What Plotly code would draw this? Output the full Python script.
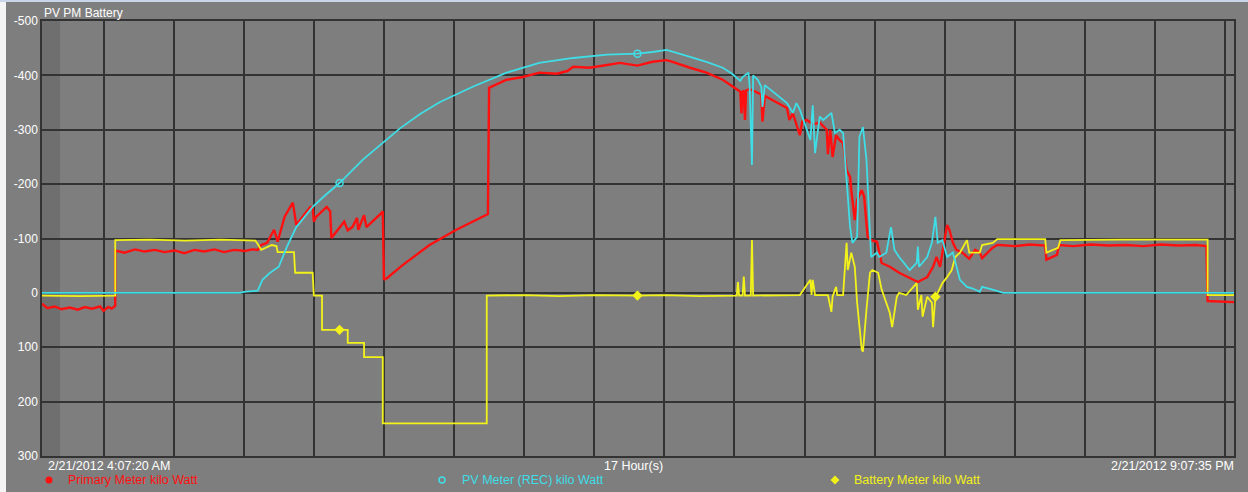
import plotly.graph_objects as go

DAY = "2012-02-21 "
START = "04:07:20"
END = "21:07:35"

# ---------------- data (time of day, kW; negative = generation, plotted upward) -------------
primary_time = [
    "04:07:20", "04:12", "04:18", "04:24", "04:31", "04:38", "04:44", "04:50", "04:57", "05:00", "05:04", "05:07", "05:10",
    "05:10", "05:18", "05:27", "05:35", "05:44", "05:52", "06:01", "06:09", "06:18", "06:26", "06:35", "06:43", "06:52", "07:01", "07:07", "07:12",
    "07:15", "07:20", "07:24", "07:26", "07:29", "07:35", "07:42", "07:45", "07:57", "07:59",
    "08:00", "08:02", "08:11", "08:14", "08:15", "08:22", "08:26", "08:29", "08:33", "08:37", "08:38", "08:43", "08:45", "08:58", "08:59",
    "09:00", "09:03", "09:16", "09:39", "10:02", "10:28", "10:29",
    "10:30", "10:45", "10:59", "11:13", "11:28", "11:37", "11:42", "11:56", "12:11", "12:22", "12:37", "12:50",
    "13:02", "13:07", "13:22", "13:36", "13:50", "13:58", "14:05", "14:06", "14:07", "14:08", "14:09", "14:10",
    "14:13", "14:23", "14:24", "14:26", "14:45", "14:47", "14:50", "14:56", "14:58",
    "15:02", "15:07", "15:13", "15:19", "15:20", "15:22", "15:24", "15:27", "15:30", "15:33", "15:36", "15:39",
    "15:40", "15:43", "15:45", "15:49", "15:51", "15:54", "15:57",
    "16:02", "16:06", "16:13", "16:21", "16:30", "16:37", "16:45", "16:50", "16:53", "16:56",
    "17:02", "17:04", "17:07", "17:10", "17:15", "17:21", "17:26", "17:30", "17:32", "17:41", "17:45", "17:47",
    "18:00", "18:13", "18:26", "18:27", "18:36", "18:38", "18:50", "19:05", "19:20", "19:35", "19:50",
    "20:05", "20:20", "20:35", "20:44", "20:45", "21:07:35",
]
primary_kw = [
    20, 28, 25, 30, 27, 31, 26, 29, 25, 33, 26, 29, 24,
    -78, -74, -80, -76, -79, -75, -78, -73, -79, -76, -80, -75, -79, -77, -80, -79,
    -88, -92, -107, -116, -94, -140, -166, -125, -158, -158,
    -131, -140, -158, -150, -101, -120, -131, -115, -121, -138, -116, -143, -121, -147, -150,
    -24, -28, -51, -88, -116, -143, -145,
    -377, -392, -397, -405, -403, -408, -416, -414, -419, -423, -418, -425,
    -428, -425, -414, -405, -392, -380, -370, -330, -370, -372, -318, -372,
    -375, -365, -315, -362, -340, -318, -330, -290, -315,
    -318, -310, -313, -300, -255, -300, -250, -290, -281, -276, -226, -213,
    -189, -134, -171, -189, -177, -103, -97,
    -94, -55, -48, -37, -28, -20, -29, -48, -66, -48,
    -125, -116, -92, -79, -74, -63, -79, -74, -64, -83, -88, -88,
    -86, -89, -87, -61, -70, -88, -86, -89, -87, -88, -86,
    -89, -87, -88, -86, 15, 17,
]

pv_time = [
    "04:07:20", "06:57", "07:00", "07:06", "07:08", "07:12", "07:16", "07:22", "07:30", "07:37", "07:45", "07:59",
    "08:10", "08:22", "08:42", "08:57", "09:14", "09:31", "09:48", "10:16", "10:45", "11:13", "11:42", "12:11",
    "12:37", "12:50", "13:02", "13:22", "13:36", "13:50", "13:58", "14:05", "14:07", "14:12", "14:13", "14:15",
    "14:16", "14:20", "14:23", "14:24", "14:26", "14:45", "14:47", "14:50", "14:53", "14:56", "15:05", "15:07",
    "15:09", "15:13", "15:16", "15:23", "15:26", "15:30", "15:33", "15:36", "15:39", "15:41", "15:45", "15:47",
    "15:50", "15:53", "15:56", "15:57", "16:02", "16:04", "16:10", "16:14", "16:17", "16:21", "16:30", "16:36",
    "16:37", "16:38", "16:45", "16:49", "16:52", "16:54", "16:58", "17:02", "17:07", "17:10", "17:13", "17:19",
    "17:24", "17:30", "17:32", "17:41", "17:50", "21:07:35",
]
pv_kw = [
    0, 0, -2, -3, -2, -4, -24, -36, -48, -85, -121, -158,
    -180, -202, -245, -272, -303, -329, -351, -379, -405, -423, -432, -438,
    -440, -443, -447, -434, -425, -414, -403, -390, -397, -405, -380, -235,
    -400, -392, -379, -342, -382, -349, -342, -331, -349, -337, -281, -345,
    -257, -324, -318, -331, -294, -300, -294, -213, -121, -92, -103, -287,
    -305, -245, -103, -66, -74, -66, -74, -121, -79, -66, -42, -55,
    -85, -48, -66, -92, -140, -92, -97, -66, -74, -48, -24, -11,
    -8, -2, -11, -6, 0, 0,
]

battery_time = [
    "04:07:20", "04:40", "05:10", "05:10", "05:40", "06:10", "06:40", "07:10", "07:12", "07:15", "07:24", "07:28",
    "07:29", "07:43", "07:44", "07:59", "08:00", "08:07", "08:07", "08:29", "08:29", "08:43", "08:43", "08:59",
    "08:59", "10:28", "10:28", "11:00", "11:30", "12:00", "12:37", "13:00", "13:30", "14:02", "14:03", "14:04",
    "14:07", "14:08", "14:09", "14:14", "14:15", "14:16", "14:56", "15:05", "15:06", "15:07", "15:09", "15:20",
    "15:23", "15:24", "15:27", "15:28", "15:33", "15:36", "15:37", "15:40", "15:43", "15:45", "15:49", "15:50",
    "15:53", "15:56", "15:58", "16:03", "16:06", "16:08", "16:13", "16:15", "16:19", "16:21", "16:27", "16:36",
    "16:37", "16:40", "16:41", "16:45", "16:49", "16:50", "16:52", "16:54", "16:58", "17:02", "17:06", "17:09",
    "17:13", "17:19", "17:21", "17:30", "17:32", "17:41", "17:45", "18:26", "18:27", "18:37", "18:39", "19:30",
    "20:45", "20:45", "21:07:35",
]
battery_kw = [
    5, 6, 5, -97, -98, -96, -98, -96, -90, -79, -88, -86,
    -75, -75, -37, -37, 5, 5, 68, 68, 92, 92, 118, 118,
    240, 240, 5, 4, 6, 4, 5, 4, 6, 5, -20, 5,
    5, -30, 5, 5, -97, 5, 4, -24, 4, -24, 4, 4,
    35, 7, -11, 4, 4, -92, -42, -74, -48, 18, 105, 108,
    31, -37, -42, -37, -6, 7, 37, 63, 7, 0, 4, -18,
    31, 4, 44, 7, 18, 63, 7, 0, -18, -29, -42, -66,
    -74, -97, -74, -74, -88, -92, -99, -99, -74, -83, -97, -98,
    -98, 4, 4,
]

pv_marker_time = ["08:22", "12:37"]
pv_marker_kw = [-202, -440]
battery_marker_time = ["08:22", "12:37", "16:52"]
battery_marker_kw = [68, 5, 7]

y_ticks = [-500, -400, -300, -200, -100, 0, 100, 200, 300]
y_ticktext = ["-500", "-400", "-300", "-200", "-100", "0", "100", "200", "300"]

chart_title = "PV PM Battery"
start_label = "2/21/2012 4:07:20 AM"
span_label = "17 Hour(s)"
end_label = "2/21/2012 9:07:35 PM"
series_names = ["Primary Meter kilo Watt", "PV Meter (REC) kilo Watt", "Battery Meter kilo Watt"]

assert len(primary_time) == len(primary_kw)
assert len(pv_time) == len(pv_kw)
assert len(battery_time) == len(battery_kw)

# ---------------- styling ----------------
RED = "#ff1010"
CYAN = "#3fdde6"
YELLOW = "#f2f21a"
BG = "#7e7e7e"
GRID = "#333333"
FONT = "Liberation Sans, Arial, sans-serif"
TXT = 12.5


def ts(times):
    return [DAY + t for t in times]


fig = go.Figure()
fig.add_trace(go.Scatter(x=ts(primary_time), y=primary_kw, mode="lines",
                         line=dict(color=RED, width=2.4), name=series_names[0]))
fig.add_trace(go.Scatter(x=ts(battery_time), y=battery_kw, mode="lines",
                         line=dict(color=YELLOW, width=1.8), name=series_names[2]))
fig.add_trace(go.Scatter(x=ts(pv_time), y=pv_kw, mode="lines",
                         line=dict(color=CYAN, width=1.8), name=series_names[1]))
fig.add_trace(go.Scatter(x=ts(pv_marker_time), y=pv_marker_kw, mode="markers",
                         marker=dict(symbol="circle-open", size=7, color=CYAN, line=dict(width=1.5, color=CYAN))))
fig.add_trace(go.Scatter(x=ts(battery_marker_time), y=battery_marker_kw, mode="markers",
                         marker=dict(symbol="diamond", size=8, color=YELLOW)))

fig.update_layout(
    width=1248, height=492,
    margin=dict(l=42, r=14, t=21, b=36),
    paper_bgcolor=BG, plot_bgcolor=BG,
    showlegend=False,
    font=dict(family=FONT, size=TXT, color="white"),
)
fig.update_xaxes(
    type="date", range=[DAY + START, DAY + END],
    tick0=DAY + "05:00:00", dtick=3600000,
    showticklabels=False, ticks="",
    showgrid=True, gridcolor=GRID, gridwidth=1.5,
    showline=True, linecolor=GRID, linewidth=1.5, mirror=True, zeroline=False,
)
fig.update_yaxes(
    range=[300, -500], tickvals=y_ticks, ticktext=y_ticktext,
    ticks="", tickfont=dict(family=FONT, size=12, color="white"),
    showgrid=True, gridcolor=GRID, gridwidth=1.5,
    showline=True, linecolor=GRID, linewidth=1.5, mirror=True, zeroline=False,
)

W, H = 1192.0, 435.0  # plot area in px
shapes = [
    # darker strip at the left edge of the plot area
    dict(type="rect", xref="x", yref="paper", x0=DAY + START, x1=DAY + "04:22:40", y0=0, y1=1,
         fillcolor="#6f6f6f", line=dict(width=0), layer="below"),
    # white left margin strip and light-blue top rule of the window
    dict(type="rect", xref="paper", yref="paper", x0=-42 / W, x1=-36 / W, y0=-36 / H, y1=21 / H + 1,
         fillcolor="#f4f4f4", line=dict(width=0)),
    dict(type="rect", xref="paper", yref="paper", x0=-42 / W, x1=1 + 14 / W, y0=1 + 19 / H, y1=1 + 21 / H,
         fillcolor="#c9d6ea", line=dict(width=0)),
    # legend symbols
    dict(type="circle", xref="paper", yref="paper", xsizemode="pixel", ysizemode="pixel",
         xanchor=7 / W, yanchor=-24 / H, x0=-3.5, x1=3.5, y0=-3.5, y1=3.5,
         fillcolor=RED, line=dict(width=0)),
    dict(type="circle", xref="paper", yref="paper", xsizemode="pixel", ysizemode="pixel",
         xanchor=400 / W, yanchor=-24 / H, x0=-3, x1=3, y0=-3, y1=3,
         fillcolor="rgba(0,0,0,0)", line=dict(width=1.5, color=CYAN)),
    dict(type="path", xref="paper", yref="paper", xsizemode="pixel", ysizemode="pixel",
         xanchor=793 / W, yanchor=-24 / H, path="M 0 4.5 L 4.5 0 L 0 -4.5 L -4.5 0 Z",
         fillcolor=YELLOW, line=dict(width=0)),
]
fig.update_layout(shapes=shapes)

ann = [
    dict(text=chart_title, x=0, y=1, xanchor="left", yanchor="bottom", yshift=-1,
         font=dict(size=12, color="white")),
    dict(text=start_label, x=0, y=0, xanchor="left", yanchor="top", xshift=4, yshift=-1,
         font=dict(size=TXT, color="white")),
    dict(text=span_label, x=0.496, y=0, xanchor="center", yanchor="top", yshift=-1,
         font=dict(size=TXT, color="white")),
    dict(text=end_label, x=1, y=0, xanchor="right", yanchor="top", xshift=2, yshift=-1,
         font=dict(size=TXT, color="white")),
    dict(text=series_names[0], x=24 / W, y=-24 / H, xanchor="left", yanchor="middle",
         font=dict(size=TXT, color=RED)),
    dict(text=series_names[1], x=418 / W, y=-24 / H, xanchor="left", yanchor="middle",
         font=dict(size=TXT, color=CYAN)),
    dict(text=series_names[2], x=810 / W, y=-24 / H, xanchor="left", yanchor="middle",
         font=dict(size=TXT, color=YELLOW)),
]
for a in ann:
    a.update(xref="paper", yref="paper", showarrow=False)
fig.update_layout(annotations=ann)

fig.write_html(
    "out.html",
    config={"displayModeBar": False},
    post_script="document.body.style.margin='0';document.body.style.overflow='hidden';",
)
